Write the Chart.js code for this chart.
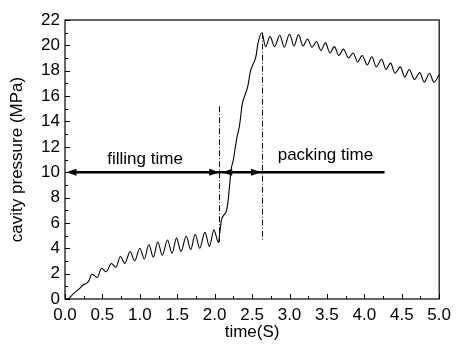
<!DOCTYPE html>
<html>
<head>
<meta charset="utf-8">
<script src="https://cdn.jsdelivr.net/npm/chart.js@4.4.0/dist/chart.umd.min.js"></script>
<style>
  html, body { margin: 0; padding: 0; background: #fff; }
</style>
</head>
<body>
<canvas id="chart" width="457" height="345"></canvas>
<script>
'use strict';

// cavity pressure curve (time in s, pressure in MPa)
const timeS = [
  0.00, 0.04, 0.10, 0.15, 0.20, 0.24, 0.29, 0.32, 0.36, 0.43,
  0.49, 0.55, 0.62, 0.68, 0.74, 0.80, 0.87, 0.93, 1.00, 1.06,
  1.12, 1.18, 1.24, 1.30, 1.37, 1.43, 1.49, 1.55, 1.62, 1.68,
  1.74, 1.80, 1.87, 1.93, 1.99, 2.05, 2.07, 2.09, 2.12, 2.16,
  2.18, 2.20, 2.22, 2.25, 2.27, 2.30, 2.33, 2.37, 2.40, 2.44,
  2.48, 2.52, 2.55, 2.58, 2.63, 2.68, 2.74, 2.80, 2.87, 2.93,
  3.00, 3.06, 3.12, 3.18, 3.24, 3.30, 3.36, 3.42, 3.48, 3.54,
  3.60, 3.66, 3.72, 3.79, 3.85, 3.91, 3.97, 4.04, 4.10, 4.16,
  4.23, 4.29, 4.35, 4.41, 4.48, 4.54, 4.60, 4.67, 4.74, 4.80,
  4.87, 4.93, 5.00
];
const pressure = [
  0.0, 0.0, 0.35, 0.6, 0.85, 1.1, 1.25, 1.45, 1.97, 1.7,
  2.42, 2.15, 2.8, 2.5, 3.35, 2.8, 3.75, 3.0, 4.0, 3.15,
  4.3, 3.3, 4.5, 3.45, 4.65, 3.6, 4.8, 3.75, 4.95, 3.9,
  5.1, 4.0, 5.25, 4.15, 5.45, 4.45, 5.3, 6.2, 6.6, 7.0,
  7.8, 9.0, 10.2, 11.0, 11.75, 12.8, 13.6, 15.4, 16.0, 16.7,
  18.0, 18.6, 19.1, 20.2, 21.0, 19.9, 20.7, 19.9, 20.8, 19.85,
  20.9, 19.95, 20.85, 19.95, 20.5, 19.85, 20.3, 19.6, 20.2, 19.4,
  19.9, 19.2, 19.7, 19.0, 19.4, 18.7, 19.2, 18.45, 19.1, 18.3,
  18.9, 18.1, 18.6, 17.8, 18.3, 17.5, 18.1, 17.3, 17.85, 17.1,
  17.8, 17.1, 17.7
];

const xTicks = [0, 0.5, 1.0, 1.5, 2.0, 2.5, 3.0, 3.5, 4.0, 4.5, 5.0];
const yTicks = [0, 2, 4, 6, 8, 10, 12, 14, 16, 18, 20, 22];

// dash-dot markers at end of filling / end of packing
const markerTime = [2.06, 2.63];
const markerTop = [15.2, 21.0];
const markerBottom = [4.5, 4.65];

// arrows along p = 10 MPa
const arrowLevel = 10;
const arrowLineFrom = 0.02, arrowLineTo = 4.27;
const arrowTips = [0.02, 2.06, 2.10, 2.62];
const arrowDirs = [-1, 1, -1, 1];

const noteText = ['filling time', 'packing time'];
const noteX = [1.07, 3.48];
const noteY = [10.65, 11.0];

const FONT = '"Liberation Sans", Arial, Helvetica, sans-serif';

const decor = {
  id: 'decor',
  afterDatasetsDraw(chart) {
    const ctx = chart.ctx;
    const a = chart.chartArea;
    const xs = chart.scales.x, ys = chart.scales.y;
    ctx.save();

    // frame
    ctx.strokeStyle = '#000';
    ctx.lineWidth = 1.2;
    ctx.strokeRect(a.left, a.top, a.right - a.left, a.bottom - a.top);

    // inward ticks
    ctx.lineWidth = 1;
    ctx.beginPath();
    for (let v = 0; v <= 5.0001; v += 0.25) {
      const px = Math.round(xs.getPixelForValue(v)) + 0.5;
      const len = (Math.round(v * 4) % 2 === 0) ? 5 : 3;
      ctx.moveTo(px, a.bottom);
      ctx.lineTo(px, a.bottom - len);
    }
    for (let v = 0; v <= 22; v += 1) {
      const py = Math.round(ys.getPixelForValue(v)) + 0.5;
      const len = (v % 2 === 0) ? 5 : 3;
      ctx.moveTo(a.left, py);
      ctx.lineTo(a.left + len, py);
    }
    ctx.stroke();

    // dash-dot markers
    ctx.setLineDash([6, 2, 1, 2]);
    ctx.lineWidth = 1;
    markerTime.forEach((t, i) => {
      const px = Math.round(xs.getPixelForValue(t)) + 0.5;
      ctx.beginPath();
      ctx.moveTo(px, ys.getPixelForValue(markerTop[i]));
      ctx.lineTo(px, ys.getPixelForValue(markerBottom[i]));
      ctx.stroke();
    });
    ctx.setLineDash([]);

    // arrow line
    const ay = ys.getPixelForValue(arrowLevel);
    ctx.lineWidth = 2.5;
    ctx.beginPath();
    ctx.moveTo(xs.getPixelForValue(arrowLineFrom) + 4, ay);
    ctx.lineTo(xs.getPixelForValue(arrowLineTo), ay);
    ctx.stroke();
    ctx.fillStyle = '#000';
    arrowTips.forEach((t, i) => {
      const px = xs.getPixelForValue(t);
      const d = arrowDirs[i];
      ctx.beginPath();
      ctx.moveTo(px, ay);
      ctx.lineTo(px - d * 10, ay - 3.5);
      ctx.lineTo(px - d * 10, ay + 3.5);
      ctx.closePath();
      ctx.fill();
    });

    // notes
    ctx.font = '17px ' + FONT;
    ctx.textAlign = 'center';
    ctx.textBaseline = 'alphabetic';
    noteText.forEach((s, i) => {
      ctx.fillText(s, xs.getPixelForValue(noteX[i]), ys.getPixelForValue(noteY[i]));
    });
    ctx.restore();
  }
};

const points = timeS.map((t, i) => ({ x: t, y: pressure[i] }));

new Chart(document.getElementById('chart'), {
  type: 'line',
  data: {
    datasets: [{
      data: points,
      borderColor: '#000',
      borderWidth: 1.1,
      pointRadius: 0,
      cubicInterpolationMode: 'monotone',
      fill: false
    }]
  },
  options: {
    responsive: false,
    devicePixelRatio: 1,
    animation: false,
    layout: { padding: { top: 20, right: 13, left: 0, bottom: 0 } },
    plugins: { legend: { display: false }, tooltip: { enabled: false } },
    scales: {
      x: {
        type: 'linear',
        min: 0, max: 5,
        afterBuildTicks: s => { s.ticks = xTicks.map(v => ({ value: v })); },
        afterFit: s => { s.height = 46; },
        grid: { display: false, drawTicks: false },
        border: { display: false },
        ticks: {
          color: '#000', padding: 6, maxRotation: 0, autoSkip: false,
          font: { family: FONT, size: 17 },
          callback: v => Number(v).toFixed(1)
        },
        title: {
          display: true, text: 'time(S)', color: '#000',
          font: { family: FONT, size: 17 }, padding: { top: 0, bottom: 2 }
        }
      },
      y: {
        min: 0, max: 22,
        afterBuildTicks: s => { s.ticks = yTicks.map(v => ({ value: v })); },
        afterFit: s => { s.width = 65; },
        grid: { display: false, drawTicks: false },
        border: { display: false },
        ticks: {
          color: '#000', padding: 5, autoSkip: false,
          font: { family: FONT, size: 17 }
        },
        title: {
          display: true, text: 'cavity pressure (MPa)', color: '#000',
          font: { family: FONT, size: 17 }, padding: { top: 7, bottom: 0 }
        }
      }
    }
  },
  plugins: [decor]
});
</script>
</body>
</html>
